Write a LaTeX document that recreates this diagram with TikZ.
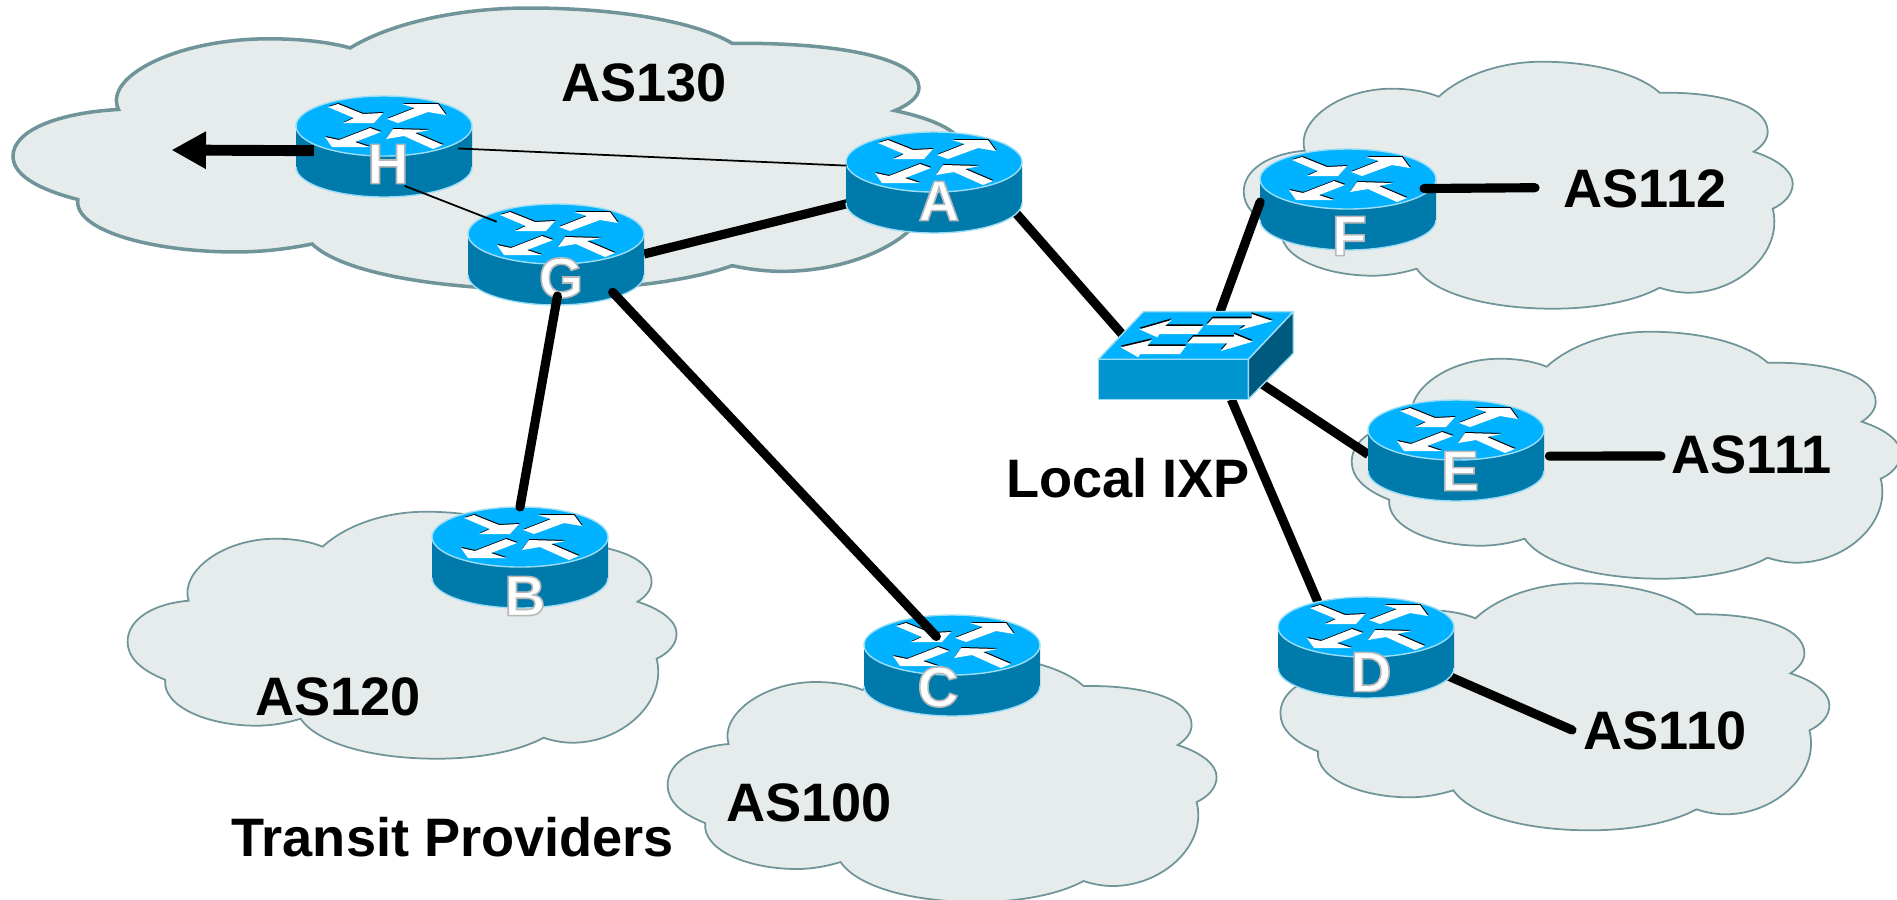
\documentclass[tikz,border=0pt]{standalone}
\usepackage{fontspec}
\setmainfont{Liberation Sans}
\usetikzlibrary{arrows.meta,backgrounds,shapes.geometric}
\definecolor{cloudgrey}{HTML}{E6ECEC}
\definecolor{cloudedge}{HTML}{6F9499}
\definecolor{topblue}{HTML}{00B2FF}
\definecolor{sideblue}{HTML}{0079AB}
\definecolor{rimblue}{HTML}{9BDDF5}
\definecolor{frontblue}{HTML}{0095D0}
\definecolor{darkblue}{HTML}{005A80}
\tikzset{
    cloud/.style = {
        fill=cloudgrey,
        draw=cloudedge,
        line width=0.5pt
    },
    bigcloud/.style = {
        cloud,
        line width=1pt
    },
    rim/.style = {
        draw=rimblue,
        line width=0.4pt,
        line join=round
    },
    routerbody/.style = {
        ellipse,
        inner sep=0pt,
        outer sep=0pt,
        minimum width=1.76cm,
        minimum height=1cm
    },
    routerlabel/.style = {
        text=white,
        inner sep=0pt,
        font=\fontsize{16.2}{18}\selectfont\bfseries
    },
    ixpbody/.style = {
        rectangle,
        inner sep=0pt,
        outer sep=0pt,
        minimum width=1.3cm,
        minimum height=0.88cm
    },
    wire/.style = {
        line width=2.6pt,
        line cap=round,
        black
    },
    thinwire/.style = {
        line width=0.5pt,
        black
    },
    astext/.style = {
        inner sep=0pt,
        font=\fontsize{15.4}{18}\selectfont\bfseries
    }
}
% one cloud: left, top, xscale, yscale, style
\newcommand{\ascloud}[5]{
    \begin{scope}[shift={(#1,#2)},xscale=#3,yscale=#4]
        \draw[#5] (37.5,168) .. controls (12,158) and (0,145) .. (0,130)
            .. controls (0,108) and (25,92) .. (61,89)
            .. controls (52,60) and (95,27) .. (148,27)
            .. controls (167,27) and (183,30) .. (195,35)
            .. controls (220,12) and (260,0) .. (298,0)
            .. controls (350,0) and (395,12) .. (416,31)
            .. controls (480,30) and (524,45) .. (524,70)
            .. controls (524,78) and (518,85) .. (510,90)
            .. controls (535,98) and (549,110) .. (549,122)
            .. controls (549,133) and (540,142) .. (529,147)
            .. controls (540,190) and (495,231) .. (445,231)
            .. controls (435,231) and (425,229) .. (416,226)
            .. controls (390,240) and (350,247) .. (309,247)
            .. controls (245,247) and (190,232) .. (173,207)
            .. controls (160,211) and (145,214) .. (129,214)
            .. controls (80,214) and (35,195) .. (37.5,168) -- cycle;
    \end{scope}
}
\newcommand{\routerarrows}{
    \fill (-56,-19) -- (-46,-22) -- (-21,-12) -- (-1,-13) -- (-10,-3) -- (-41,-3) -- (-30,-8) -- cycle;
    \fill (3,-7) -- (31,-18) -- (18,-22) -- (54,-22) -- (62,-11) -- (44,-14) -- (14,-3) -- cycle;
    \fill (-14,2) -- (-3,6) -- (-29,16) -- (-14,21) -- (-52,21) -- (-59,11) -- (-45,14) -- cycle;
    \fill (9,3) -- (45,4) -- (31,7) -- (59,19) -- (49,23) -- (20,10) -- (2,13) -- cycle;
}
% white letter with a grey edge
\newcommand{\edged}[1]{\special{pdf:code 2 Tr 0.45 w 0.72 0.72 0.72 RG}#1\special{pdf:code 0 Tr}}
% one router: name, x, y of the top face, label offset
\newcommand{\router}[5]{
    \begin{scope}[shift={(#2,#3)}]
        \fill[sideblue] (-88,0) -- (-88,41) arc[start angle=180,end angle=0,x radius=88,y radius=30] -- (88,0) -- cycle;
        \draw[rim] (-88,41) arc[start angle=180,end angle=0,x radius=88,y radius=30];
        \filldraw[rim,fill=topblue] (0,0) ellipse [x radius=88,y radius=30];
        \begin{scope}[black,shift={(0.5,-1)}]
            \routerarrows
        \end{scope}
        \begin{scope}[white]
            \routerarrows
        \end{scope}
        \node[routerbody] (#1) at (0,20) {};
        \node[routerlabel] (#1label) at (#4,#5) {\edged{#1}};
    \end{scope}
}

\begin{document}
\begin{tikzpicture}[x=0.01cm,y=-0.01cm]
    \useasboundingbox (0,0) rectangle (1897,899);

    % Draw all clouds
    \begin{pgfonlayer}{background}
        \ascloud{13}{8}{1.729}{1.14}{bigcloud}
        \ascloud{127.6}{511.7}{1}{1}{cloud}
        \ascloud{667.6}{655}{1}{1}{cloud}
        \ascloud{1243.7}{61.7}{1}{1}{cloud}
        \ascloud{1351.7}{331.7}{1}{1}{cloud}
        \ascloud{1280.4}{583.3}{1}{1}{cloud}
    \end{pgfonlayer}

    % Draw routers
    \router{H}{384}{126}{4}{38}
    \router{A}{934}{162}{5}{39}
    \router{G}{556}{234}{5}{44}
    \router{B}{520}{537}{5}{59}
    \router{C}{952}{645}{-14}{42}
    \router{D}{1366}{627}{5}{45}
    \router{E}{1456}{430}{4}{41}
    \router{F}{1348}{179}{1.5}{57}
    \node[ixpbody] (IXP) at (1195.7,355.5) {};

    % Free ends
    \coordinate (Hout) at (171.5,150);
    \coordinate (AS112end) at (1535,187.7);
    \coordinate (AS111end) at (1661,456);
    \coordinate (AS110end) at (1572,730);

    % Draw wires behind the icons
    \begin{pgfonlayer}{background}
        \draw[wire,line cap=butt] (G.east) -- (A.194);
        \draw[wire,line cap=butt] (A.-18) -- (IXP.170.8);
        \draw[wire,line cap=butt] (IXP.-23.3) -- (E.183);
        \draw[wire,line cap=butt] (IXP.-51.3) -- (D.138);
        \draw[wire] (D.-19.3) -- (AS110end);
    \end{pgfonlayer}

    % Draw wires on top of the icons
    \draw[wire] (F.182) -- (IXP.61);
    \draw[wire,shorten <=-2.3pt] (G.south) -- (B.north);
    \draw[wire,shorten >=-7pt] (G.-34) -- (C.125);
    \draw[wire,shorten <=-2.85pt] (F.7.5) -- (AS112end);
    \draw[wire,shorten <=1.7pt] (E.-4) -- (AS111end);
    \draw[thinwire,shorten <=-4pt,shorten >=1.2pt] (H.-2.5) -- (A.169);
    \draw[thinwire,shorten <=-4.6pt,shorten >=-1.5pt] (H.-52) -- (G.152.2);
    \draw[line width=3.1pt,shorten <=-5pt,-{Triangle[length=9.8pt,width=10pt]}] (H.183) -- (Hout);

    % Draw the exchange switch
    \begin{scope}[shift={(1080,290)},scale=1/3]
        \filldraw[rim,fill=topblue] (55,208) -- (190,65) -- (640,65) -- (505,208) -- cycle;
        \filldraw[rim,fill=frontblue] (55,208) -- (505,208) -- (505,328) -- (55,328) -- cycle;
        \filldraw[rim,fill=darkblue] (505,208) -- (640,65) -- (640,190) -- (505,328) -- cycle;
        \begin{scope}[black,shift={(0,-5)}]
            \fill (178,118) -- (275,90) -- (255,108) -- (370,108) -- (352,132) -- (238,132) -- (232,142) -- cycle;
            \fill (578,93) -- (515,72) -- (515,85) -- (398,85) -- (380,105) -- (498,105) -- (478,120) -- cycle;
            \fill (122,172) -- (215,150) -- (202,168) -- (318,168) -- (300,192) -- (180,192) -- (175,202) -- cycle;
            \fill (518,155) -- (462,132) -- (462,140) -- (340,140) -- (322,160) -- (442,160) -- (422,183) -- cycle;
        \end{scope}
        \begin{scope}[white]
            \fill (178,118) -- (275,90) -- (255,108) -- (370,108) -- (352,132) -- (238,132) -- (232,142) -- cycle;
            \fill (578,93) -- (515,72) -- (515,85) -- (398,85) -- (380,105) -- (498,105) -- (478,120) -- cycle;
            \fill (122,172) -- (215,150) -- (202,168) -- (318,168) -- (300,192) -- (180,192) -- (175,202) -- cycle;
            \fill (518,155) -- (462,132) -- (462,140) -- (340,140) -- (322,160) -- (442,160) -- (422,183) -- cycle;
        \end{scope}
    \end{scope}

    % Draw labels
    \node[astext] (AS130) at (644,82.5) {AS130};
    \node[astext] (AS112) at (1645,188.8) {AS112};
    \node[astext] (AS111) at (1751.5,454.5) {AS111};
    \node[astext] (AS110) at (1665,731) {AS110};
    \node[astext] (AS120) at (338,696.7) {AS120};
    \node[astext] (AS100) at (808.8,802.8) {AS100};
    \node[astext] (transit) at (452.9,836.7) {Transit Providers};
    \node[astext] (ixplabel) at (1128,478) {Local IXP};
\end{tikzpicture}
\end{document}
